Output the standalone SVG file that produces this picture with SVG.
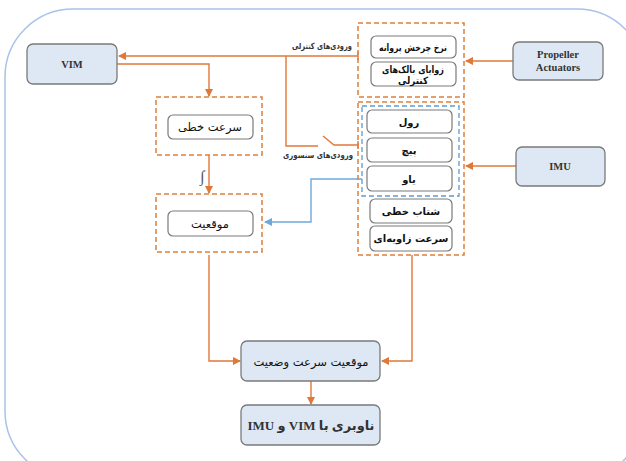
<svg xmlns="http://www.w3.org/2000/svg" width="626" height="461" viewBox="0 0 626 461">
  <style>
    .bg { fill: #ffffff; }
    .frame { fill: none; stroke: #a9c2e8; stroke-width: 1.5; }
    .node { fill: #dde8f4; stroke: #7a7a7a; stroke-width: 1.3; }
    .item { fill: #ffffff; stroke: #7a7a7a; stroke-width: 1.2; }
    .grp { fill: none; stroke: #e07f3e; stroke-width: 1.5; stroke-dasharray: 5 3; }
    .grpb { fill: none; stroke: #5b9bd5; stroke-width: 1.3; stroke-dasharray: 5 3; }
    .wire { fill: none; stroke: #e07838; stroke-width: 1.4; }
    .wireb { fill: none; stroke: #6fa8dc; stroke-width: 1.4; }
    .en { font-family: "Liberation Serif", serif; font-weight: bold; font-size: 10.5px; fill: #333; }
    .fa { font-family: "DejaVu Sans", sans-serif; font-size: 11.5px; fill: #111; direction: rtl; }
    .fab { font-family: "DejaVu Sans", sans-serif; font-size: 10px; font-weight: bold; fill: #111; direction: rtl; }
    .lbl { font-family: "DejaVu Sans", sans-serif; font-size: 8.5px; font-weight: bold; fill: #333; direction: rtl; }
    .mix { font-family: "Liberation Serif", "DejaVu Sans", serif; font-size: 13px; font-weight: bold; fill: #333; direction: rtl; }
  </style>
  <defs>
    <marker id="arrO" viewBox="0 0 8 8" refX="7" refY="4" markerWidth="6" markerHeight="6" orient="auto">
      <path d="M0,0 L8,4 L0,8 z" fill="#e07838"/>
    </marker>
    <marker id="arrB" viewBox="0 0 8 8" refX="7" refY="4" markerWidth="6" markerHeight="6" orient="auto">
      <path d="M0,0 L8,4 L0,8 z" fill="#6fa8dc"/>
    </marker>
  </defs>

  <rect class="bg" x="0" y="0" width="626" height="461"/>
  <rect class="frame" x="5" y="9" width="640" height="470" rx="68" ry="68"/>

  <!-- connectors -->
  <g id="connectors">
    <!-- control inputs to VIM -->
    <path class="wire" d="M358,56 L119,56" marker-end="url(#arrO)"/>
    <path class="wire" d="M358,52 L358,60"/>
    <!-- branch down to the sensor switch -->
    <path class="wire" d="M286,56 L286,146 L318,146"/>
    <path class="wire" d="M323,136 L334,145 L358,145"/>
    <path class="wire" d="M358,141 L358,149"/>
    <!-- VIM to linear velocity -->
    <path class="wire" d="M117,64 L209,64 L209,96" marker-end="url(#arrO)"/>
    <!-- linear velocity to position -->
    <path class="wire" d="M209,155 L209,193" marker-end="url(#arrO)"/>
    <!-- yaw to position -->
    <path class="wireb" d="M362,179 L311,179 L311,222 L265,222" marker-end="url(#arrB)"/>
    <!-- position to state -->
    <path class="wire" d="M209,255 L209,361 L240,361" marker-end="url(#arrO)"/>
    <!-- sensor group to state -->
    <path class="wire" d="M412,255 L412,361 L382,361" marker-end="url(#arrO)"/>
    <!-- state to navigation -->
    <path class="wire" d="M311,381 L311,404" marker-end="url(#arrO)"/>
    <!-- actuators and IMU -->
    <path class="wire" d="M513,61 L466,61" marker-end="url(#arrO)"/>
    <path class="wire" d="M516,166 L466,166" marker-end="url(#arrO)"/>
    <text x="200" y="182" font-family="Liberation Serif, serif" font-style="italic" font-size="16" fill="#555">∫</text>
    <text class="lbl" x="322" y="49" text-anchor="middle" textLength="60" lengthAdjust="spacingAndGlyphs">ورودی‌های کنترلی</text>
    <text class="lbl" x="318" y="158" text-anchor="middle" textLength="70" lengthAdjust="spacingAndGlyphs">ورودی‌های سنسوری</text>
  </g>

  <g id="vim">
    <rect class="node" x="27" y="44" width="90" height="40" rx="6"/>
    <text class="en" x="72" y="68" text-anchor="middle">VIM</text>
  </g>

  <g id="linear-velocity">
    <rect class="grp" x="156" y="97" width="106" height="58"/>
    <rect class="item" x="168" y="115" width="85" height="24" rx="5"/>
    <text class="fa" x="210" y="131" text-anchor="middle">سرعت خطی</text>
  </g>

  <g id="position">
    <rect class="grp" x="156" y="194" width="106" height="58"/>
    <rect class="item" x="168" y="211" width="85" height="25" rx="5"/>
    <text class="fa" x="210" y="228" text-anchor="middle">موقعیت</text>
  </g>

  <g id="controls">
    <rect class="grp" x="358" y="23" width="106" height="74"/>
    <rect class="item" x="371" y="36" width="85" height="22" rx="5"/>
    <text class="fab" x="413" y="51" text-anchor="middle" font-size="11" textLength="68" lengthAdjust="spacingAndGlyphs">نرخ چرخش پروانه</text>
    <rect class="item" x="371" y="62" width="85" height="24" rx="5"/>
    <text class="fab" x="413" y="73" text-anchor="middle" font-size="10.5" textLength="62" lengthAdjust="spacingAndGlyphs">زوایای بالک‌های</text>
    <text class="fab" x="413" y="84" text-anchor="middle" font-size="10.5" textLength="30" lengthAdjust="spacingAndGlyphs">کنترلی</text>
  </g>

  <g id="sensors">
    <rect class="grp" x="358" y="102" width="106" height="153"/>
    <rect class="grpb" x="362" y="106" width="97" height="90"/>
    <rect class="item" x="367" y="110" width="85" height="23" rx="5"/>
    <text class="fab" x="409" y="126" text-anchor="middle" font-size="11">رول</text>
    <rect class="item" x="367" y="138" width="85" height="24" rx="5"/>
    <text class="fab" x="409" y="154" text-anchor="middle" font-size="11">پیچ</text>
    <rect class="item" x="367" y="166" width="85" height="25" rx="5"/>
    <text class="fab" x="409" y="183" text-anchor="middle" font-size="11">یاو</text>
    <rect class="item" x="370" y="199" width="82" height="24" rx="5"/>
    <text class="fab" x="411" y="215" text-anchor="middle">شتاب خطی</text>
    <rect class="item" x="370" y="226" width="82" height="25" rx="5"/>
    <text class="fab" x="411" y="242" text-anchor="middle" font-size="9.5">سرعت زاویه‌ای</text>
  </g>

  <g id="actuators">
    <rect class="node" x="513" y="42" width="90" height="38" rx="6"/>
    <text class="en" x="558" y="58" text-anchor="middle">Propeller</text>
    <text class="en" x="558" y="71" text-anchor="middle">Actuators</text>
  </g>

  <g id="imu">
    <rect class="node" x="516" y="147" width="89" height="39" rx="6"/>
    <text class="en" x="560" y="170" text-anchor="middle">IMU</text>
  </g>

  <g id="state">
    <rect class="node" x="241" y="341" width="139" height="40" rx="6"/>
    <text class="fa" x="311" y="366" text-anchor="middle" font-size="13">موقعیت سرعت وضعیت</text>
  </g>

  <g id="navigation">
    <rect class="node" x="241" y="405" width="139" height="40" rx="6"/>
    <text class="mix" x="311" y="430" text-anchor="middle">ناوبری با VIM و IMU</text>
  </g>
</svg>
